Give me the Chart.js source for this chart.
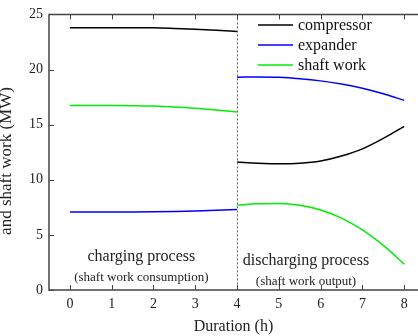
<!DOCTYPE html>
<html>
<head>
<meta charset="utf-8">
<script src="https://cdn.jsdelivr.net/npm/chart.js@4.4.0/dist/chart.umd.min.js"></script>
<style>
  html, body { margin: 0; padding: 0; background: #fff; }
  #wrap { width: 418px; height: 336px; position: relative; }
</style>
</head>
<body>
<div id="wrap"><canvas id="c" width="418" height="336"></canvas></div>
<script>
// Duration (h) sample points for each process
const hoursCharging    = [0, 0.5, 1, 1.5, 2, 2.5, 3, 3.5, 4];
const hoursDischarging = [4, 4.5, 5, 5.5, 6, 6.5, 7, 7.5, 8];

// Power (MW) during charging
const compressorCharging = [23.8, 23.8, 23.8, 23.8, 23.78, 23.72, 23.65, 23.56, 23.45];
const expanderCharging   = [7.07, 7.07, 7.07, 7.08, 7.1, 7.13, 7.17, 7.23, 7.3];
const shaftCharging      = [16.73, 16.73, 16.73, 16.72, 16.68, 16.6, 16.48, 16.33, 16.15];

// Power (MW) during discharging
const compressorDischarging = [11.6, 11.5, 11.45, 11.5, 11.7, 12.15, 12.8, 13.75, 14.85];
const expanderDischarging   = [19.3, 19.33, 19.3, 19.17, 18.97, 18.68, 18.3, 17.8, 17.2];
const shaftDischarging      = [7.7, 7.82, 7.85, 7.68, 7.25, 6.52, 5.45, 4.05, 2.35];

const seriesNames  = ['compressor', 'expander', 'shaft work'];
const seriesColors = ['#000000', '#0000ff', '#00ee00'];

const xTicks = [0, 1, 2, 3, 4, 5, 6, 7, 8];
const yTicks = [0, 5, 10, 15, 20, 25];

const phaseLabels = [
  { text: 'charging process',         x: 1.71, y: 2.99, size: 16 },
  { text: '(shaft work consumption)', x: 1.71, y: 1.09, size: 13 },
  { text: 'discharging process',      x: 5.65, y: 2.63, size: 16 },
  { text: '(shaft work output)',      x: 5.65, y: 0.72, size: 13 }
];
const switchHour = 4;

const SERIF = '"Liberation Serif", "DejaVu Serif", serif';

function joinPhases(xa, ya, xb, yb) {
  const pts = xa.map((x, i) => ({ x: x, y: ya[i] }));
  pts.push({ x: switchHour, y: null });          // break between the two processes
  xb.forEach((x, i) => pts.push({ x: x, y: yb[i] }));
  return pts;
}

const seriesData = [
  joinPhases(hoursCharging, compressorCharging, hoursDischarging, compressorDischarging),
  joinPhases(hoursCharging, expanderCharging,   hoursDischarging, expanderDischarging),
  joinPhases(hoursCharging, shaftCharging,      hoursDischarging, shaftDischarging)
];

const AXIS = '#444';

// Frame, inward tick marks, divider, phase captions, legend and y title
const decorations = {
  id: 'decorations',
  afterDatasetsDraw(chart) {
    const { ctx, chartArea: a, scales: { x, y } } = chart;
    ctx.save();

    // switch-over divider
    const xs = Math.round(x.getPixelForValue(switchHour)) + 0.5;
    ctx.strokeStyle = '#666';
    ctx.lineWidth = 1;
    ctx.setLineDash([2, 2]);
    ctx.beginPath();
    ctx.moveTo(xs, a.top);
    ctx.lineTo(xs, a.bottom);
    ctx.stroke();
    ctx.setLineDash([]);

    // frame: left, bottom and top
    ctx.strokeStyle = AXIS;
    ctx.lineWidth = 1.5;
    ctx.beginPath();
    ctx.moveTo(a.right + 2, a.top);
    ctx.lineTo(a.left, a.top);
    ctx.lineTo(a.left, a.bottom);
    ctx.lineTo(a.right + 2, a.bottom);
    ctx.stroke();

    // inward ticks
    ctx.lineWidth = 1;
    ctx.beginPath();
    xTicks.forEach(v => {
      const px = Math.round(x.getPixelForValue(v)) + 0.5;
      ctx.moveTo(px, a.bottom); ctx.lineTo(px, a.bottom - 5);
      ctx.moveTo(px, a.top);    ctx.lineTo(px, a.top + 5);
    });
    yTicks.forEach(v => {
      const py = Math.round(y.getPixelForValue(v)) + 0.5;
      ctx.moveTo(a.left, py); ctx.lineTo(a.left + 5, py);
    });
    ctx.stroke();

    // process captions
    ctx.fillStyle = '#222';
    ctx.textAlign = 'center';
    ctx.textBaseline = 'middle';
    phaseLabels.forEach(l => {
      ctx.font = l.size + 'px ' + SERIF;
      ctx.fillText(l.text, x.getPixelForValue(l.x), y.getPixelForValue(l.y));
    });

    // legend
    ctx.font = '16px ' + SERIF;
    ctx.textAlign = 'left';
    const lx0 = 258, lx1 = 293, ly0 = 25, step = 20;
    seriesNames.forEach((name, i) => {
      const ly = ly0 + i * step;
      ctx.strokeStyle = seriesColors[i];
      ctx.lineWidth = 1.5;
      ctx.beginPath();
      ctx.moveTo(lx0, ly); ctx.lineTo(lx1, ly);
      ctx.stroke();
      ctx.fillStyle = '#111';
      ctx.fillText(name, lx1 + 5, ly + 1);
    });

    // y axis title
    ctx.save();
    ctx.translate(11, 161);
    ctx.rotate(-Math.PI / 2);
    ctx.textAlign = 'center';
    ctx.textBaseline = 'alphabetic';
    ctx.font = '17px ' + SERIF;
    ctx.fillStyle = '#222';
    ctx.fillText('and shaft work (MW)', 0, 0);
    ctx.restore();

    ctx.restore();
  }
};

new Chart(document.getElementById('c'), {
  type: 'line',
  data: {
    datasets: seriesNames.map((name, i) => ({
      label: name,
      data: seriesData[i],
      borderColor: seriesColors[i],
      backgroundColor: seriesColors[i],
      borderWidth: 1.5,
      pointRadius: 0,
      tension: 0.4,
      cubicInterpolationMode: 'monotone',
      spanGaps: false,
      fill: false
    }))
  },
  options: {
    responsive: false,
    animation: false,
    events: [],
    layout: { padding: { top: 14, right: 0, left: 0, bottom: 0 } },
    plugins: { legend: { display: false }, tooltip: { enabled: false } },
    scales: {
      x: {
        type: 'linear',
        min: -0.5,
        max: 8.33,
        afterFit(s) { s.height = 46; },
        afterBuildTicks(s) { s.ticks = xTicks.map(v => ({ value: v })); },
        grid: { display: false, drawTicks: false },
        border: { display: false },
        ticks: {
          padding: 6,
          color: '#222',
          font: { family: SERIF, size: 14 },
          maxRotation: 0
        },
        title: {
          display: true,
          text: 'Duration (h)',
          color: '#222',
          font: { family: SERIF, size: 16 },
          padding: { top: 2, bottom: 0 }
        }
      },
      y: {
        min: 0,
        max: 25,
        afterFit(s) { s.width = 49; },
        afterBuildTicks(s) { s.ticks = yTicks.map(v => ({ value: v })); },
        grid: { display: false, drawTicks: false },
        border: { display: false },
        ticks: {
          padding: 6,
          color: '#222',
          font: { family: SERIF, size: 14 }
        }
      }
    }
  },
  plugins: [decorations]
});
</script>
</body>
</html>
